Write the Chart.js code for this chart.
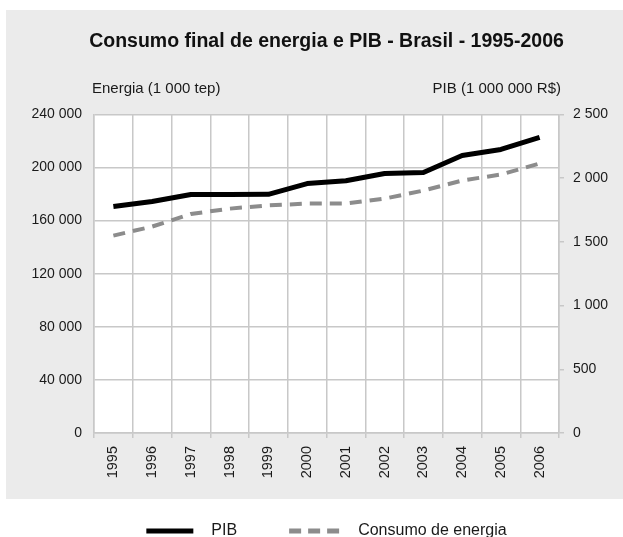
<!DOCTYPE html>
<html>
<head>
<meta charset="utf-8">
<script src="https://cdn.jsdelivr.net/npm/chart.js@4"></script>
<style>
  html, body { margin: 0; padding: 0; background: #fff; }
  #wrap { width: 623px; height: 537px; }
</style>
</head>
<body>
<div id="wrap"><canvas id="chart" width="623" height="537"></canvas></div>
<script>
// Consumo final de energia e PIB - Brasil
const years = ["1995", "1996", "1997", "1998", "1999", "2000", "2001", "2002", "2003", "2004", "2005", "2006"];
const pib = [1777, 1816, 1871, 1871, 1873, 1957, 1980, 2036, 2044, 2178, 2225, 2319];
const energia = [148700, 155500, 165000, 169000, 171500, 172800, 172800, 176600, 182600, 190200, 194700, 203000];
const energiaTicks = ["0", "40 000", "80 000", "120 000", "160 000", "200 000", "240 000"];
const pibTicks = ["0", "500", "1 000", "1 500", "2 000", "2 500"];

const FONT = "'Liberation Sans', Arial, sans-serif";
const gridColor = "#c8c8c8";

// gray panel + white plot area + axis titles + legend
const decor = {
    id: "decor",
    beforeDraw(chart) {
        const ctx = chart.ctx;
        const a = chart.chartArea;
        ctx.save();
        ctx.fillStyle = "#ebebeb";
        ctx.fillRect(6, 10, 617, 489);
        ctx.fillStyle = "#fff";
        ctx.fillRect(a.left, a.top, a.right - a.left, a.bottom - a.top);
        ctx.restore();
    },
    afterDraw(chart) {
        const ctx = chart.ctx;
        const a = chart.chartArea;
        ctx.save();
        ctx.fillStyle = "#1a1a1a";
        ctx.font = "15px " + FONT;
        ctx.textBaseline = "middle";
        ctx.textAlign = "left";
        ctx.fillText("Energia (1 000 tep)", a.left - 2, 89);
        ctx.textAlign = "right";
        ctx.fillText("PIB (1 000 000 R$)", a.right + 2, 89);

        // legend
        ctx.font = "16px " + FONT;
        ctx.textAlign = "left";
        const items = chart.data.datasets.map(ds => ({
            ds: ds,
            lineW: ds.borderDash ? 51 : 47,
            textW: ctx.measureText(ds.label).width
        }));
        const total = items.reduce((s, it) => s + it.lineW + 18 + it.textW, 0) + 52 * (items.length - 1);
        let x = (a.left + a.right) / 2 - total / 2;
        const y = 531;
        items.forEach(it => {
            ctx.beginPath();
            ctx.strokeStyle = it.ds.borderColor;
            ctx.lineWidth = 5;
            ctx.setLineDash(it.ds.borderDash ? [12, 7] : []);
            ctx.moveTo(x, y);
            ctx.lineTo(x + it.lineW, y);
            ctx.stroke();
            ctx.setLineDash([]);
            x += it.lineW + 18;
            ctx.fillStyle = "#1a1a1a";
            ctx.fillText(it.ds.label, x, y);
            x += it.textW + 52;
        });
        ctx.restore();
    }
};

new Chart(document.getElementById("chart"), {
    type: "line",
    data: {
        labels: years,
        datasets: [{
            label: "PIB",
            data: pib,
            yAxisID: "y1",
            borderColor: "#000",
            borderWidth: 5,
            pointRadius: 0,
            tension: 0,
            borderJoinStyle: "round"
        }, {
            label: "Consumo de energia",
            data: energia,
            yAxisID: "y",
            borderColor: "#8c8c8c",
            borderWidth: 4,
            borderDash: [12, 8],
            pointRadius: 0,
            tension: 0
        }]
    },
    options: {
        responsive: false,
        animation: false,
        layout: { padding: { left: 30, right: 0, top: 0, bottom: 0 } },
        plugins: {
            legend: { display: false },
            tooltip: { enabled: false },
            title: {
                display: true,
                text: "Consumo final de energia e PIB - Brasil - 1995-2006",
                color: "#111",
                font: { family: FONT, size: 19.5, weight: "bold" },
                padding: { top: 30, bottom: 61 }
            }
        },
        scales: {
            x: {
                offset: true,
                grid: { offset: true, color: gridColor, lineWidth: 1.5, tickLength: 5 },
                border: { color: gridColor, width: 1.5 },
                ticks: {
                    minRotation: 90, maxRotation: 90, padding: 8,
                    color: "#1a1a1a", font: { family: FONT, size: 14.5 }
                },
                afterFit(s) { s.height = 104; }
            },
            y: {
                position: "left",
                min: 0, max: 240000,
                ticks: {
                    stepSize: 40000, padding: 12, color: "#1a1a1a",
                    font: { family: FONT, size: 14 },
                    callback: (v, i) => energiaTicks[i]
                },
                grid: { color: gridColor, lineWidth: 1.5, drawTicks: false },
                border: { color: gridColor, width: 1.5 },
                afterFit(s) { s.width = 64; }
            },
            y1: {
                position: "right",
                min: 0, max: 2500,
                ticks: {
                    stepSize: 500, padding: 9, color: "#1a1a1a",
                    font: { family: FONT, size: 14 },
                    callback: (v, i) => pibTicks[i]
                },
                grid: { drawOnChartArea: false, color: gridColor, lineWidth: 1.5, tickLength: 5 },
                border: { color: gridColor, width: 1.5 },
                afterFit(s) { s.width = 64; }
            }
        }
    },
    plugins: [decor]
});
</script>
</body>
</html>
